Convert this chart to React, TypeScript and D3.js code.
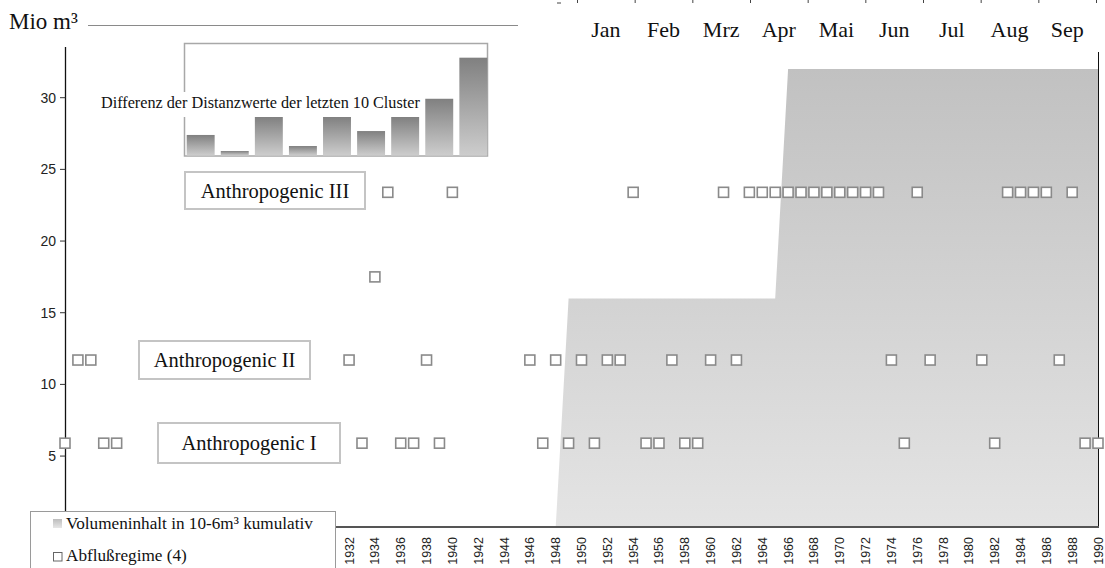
import React from 'react';
import * as d3 from 'd3';

// ---------- data ----------
const months = ['Jan', 'Feb', 'Mrz', 'Apr', 'Mai', 'Jun', 'Jul', 'Aug', 'Sep'];
const yTickValues = [5, 10, 15, 20, 25, 30];
const xTickYears = [1932, 1934, 1936, 1938, 1940, 1942, 1944, 1946, 1948, 1950, 1952, 1954, 1956, 1958, 1960,
  1962, 1964, 1966, 1968, 1970, 1972, 1974, 1976, 1978, 1980, 1982, 1984, 1986, 1988, 1990];

// cumulative volume (Mio m³)
const volumeYears = [1910, 1948, 1949, 1965, 1966, 1990];
const volumeValues = [0, 0, 16, 16, 32, 32];

// Abflußregime points (year, level)
const regimeYears = [
  1910, 1913, 1914, 1933, 1936, 1937, 1939, 1947, 1949, 1951, 1955, 1956, 1958, 1959, 1975, 1982, 1989, 1990,
  1911, 1912, 1932, 1938, 1946, 1948, 1950, 1952, 1953, 1957, 1960, 1962, 1974, 1977, 1981, 1987,
  1934,
  1935, 1940, 1954, 1961, 1963, 1964, 1965, 1966, 1967, 1968, 1969, 1970, 1971, 1972, 1973, 1976, 1983, 1984, 1985, 1986, 1988,
];
const regimeValues = [
  5.9, 5.9, 5.9, 5.9, 5.9, 5.9, 5.9, 5.9, 5.9, 5.9, 5.9, 5.9, 5.9, 5.9, 5.9, 5.9, 5.9, 5.9,
  11.7, 11.7, 11.7, 11.7, 11.7, 11.7, 11.7, 11.7, 11.7, 11.7, 11.7, 11.7, 11.7, 11.7, 11.7, 11.7,
  17.5,
  23.4, 23.4, 23.4, 23.4, 23.4, 23.4, 23.4, 23.4, 23.4, 23.4, 23.4, 23.4, 23.4, 23.4, 23.4, 23.4, 23.4, 23.4, 23.4, 23.4, 23.4,
];

// inset: differences of distance values of the last 10 clusters
const clusterSteps = ['1', '2', '3', '4', '5', '6', '7', '8', '9'];
const clusterDiffs = [0.21, 0.046, 0.395, 0.097, 0.395, 0.25, 0.395, 0.58, 1.0];

const clusterLabels = [
  { text: 'Anthropogenic III', x0: 185, y0: 172, x1: 365, y1: 209 },
  { text: 'Anthropogenic II', x0: 139, y0: 341, x1: 310, y1: 379 },
  { text: 'Anthropogenic I', x0: 158, y0: 423, x1: 340, y1: 463 },
];

const SERIF = '"Liberation Serif", "Times New Roman", serif';
const SANS = '"Liberation Sans", Arial, sans-serif';

export default function App() {
  const x = d3.scaleLinear().domain([1910, 1990]).range([65, 1098]);
  const y = d3.scaleLinear().domain([0, 30]).range([527.75, 97.7]);

  const area = d3
    .area<number>()
    .x((_, i) => x(volumeYears[i]))
    .y0(y(0))
    .y1((d) => y(d));
  const areaPath = area(volumeValues) || '';

  const mx = d3.scaleBand<string>().domain(months).range([577, 1096]);
  const monthEdges = months.map((m) => mx(m) as number).concat([1096]);

  const ix = d3.scaleBand<string>().domain(clusterSteps).range([185, 489]).paddingInner(0.18).paddingOuter(0.05);
  const iy = d3.scaleLinear().domain([0, 1.15]).range([155.5, 43]);

  const sq = 10;

  return (
    <div style={{ position: 'absolute', left: 0, top: 0 }}>
      <svg width={1105} height={568} style={{ display: 'block', background: '#fff' }}>
        <defs>
          <linearGradient id="areaGrad" x1="0" y1="0" x2="0" y2="1">
            <stop offset="0" stopColor="#c1c1c1" />
            <stop offset="1" stopColor="#e4e4e4" />
          </linearGradient>
          <linearGradient id="barGrad" x1="0" y1="0" x2="0" y2="1">
            <stop offset="0" stopColor="#808080" />
            <stop offset="1" stopColor="#cdcdcd" />
          </linearGradient>
          <linearGradient id="legGrad" x1="0" y1="0" x2="0" y2="1">
            <stop offset="0" stopColor="#bdbdbd" />
            <stop offset="1" stopColor="#e6e6e6" />
          </linearGradient>
        </defs>

        {/* title */}
        <text x={9} y={28.5} fontFamily={SERIF} fontSize={23} fill="#111">Mio m³</text>
        <line x1={88} x2={518} y1={25.5} y2={25.5} stroke="#8a8a8a" strokeWidth={1} />

        {/* top month axis */}
        <path d={monthEdges.map((e) => `M${e + 0.5},0V3`).join('') + 'M557,3H561'} stroke="#444" strokeWidth={1} fill="none" />
        {months.map((m) => (
          <text key={'ml' + m} x={(mx(m) as number) + mx.bandwidth() / 2} y={36.5} textAnchor="middle"
            fontFamily={SERIF} fontSize={22} fill="#111">{m}</text>
        ))}

        {/* volume area */}
        <path d={areaPath} fill="url(#areaGrad)" />

        {/* axes */}
        <line x1={65.5} x2={65.5} y1={47} y2={528} stroke="#111" strokeWidth={1.3} />
        {yTickValues.map((v) => (
          <g key={'yt' + v}>
            <line x1={60} x2={65.5} y1={y(v)} y2={y(v)} stroke="#333" />
            <text x={56} y={y(v)} dy="0.36em" textAnchor="end" fontFamily={SANS} fontSize={14} fill="#222">{v}</text>
          </g>
        ))}
        <line x1={1098.5} x2={1098.5} y1={52} y2={528} stroke="#111" strokeWidth={1} />
        <line x1={65} x2={1099} y1={527} y2={527} stroke="#555" strokeWidth={2} />
        {xTickYears.map((yr) => (
          <text key={'xl' + yr} transform={`translate(${x(yr)},537) rotate(-90)`} dy="0.36em" textAnchor="end"
            fontFamily={SANS} fontSize={12.5} fill="#222">{yr}</text>
        ))}

        {/* inset bar chart */}
        <rect x={184.5} y={43.5} width={303} height={112.5} fill="#fff" stroke="#a8a8a8" strokeWidth={1.5} />
        {clusterDiffs.map((v, i) => (
          <rect key={'b' + i} x={ix(clusterSteps[i])} y={iy(v)} width={ix.bandwidth()} height={iy(0) - iy(v)}
            fill="url(#barGrad)" />
        ))}
        <rect x={98} y={92} width={326} height={25} fill="#fff" />
        <text x={101} y={108} fontFamily={SERIF} fontSize={16.2} fill="#111">
          Differenz der Distanzwerte der letzten 10 Cluster
        </text>

        {/* cluster labels */}
        {clusterLabels.map((l) => (
          <g key={l.text}>
            <rect x={l.x0} y={l.y0} width={l.x1 - l.x0} height={l.y1 - l.y0} fill="#fff" stroke="#c4c4c4" strokeWidth={2} />
            <text x={(l.x0 + l.x1) / 2} y={(l.y0 + l.y1) / 2} dy="0.35em" textAnchor="middle"
              fontFamily={SERIF} fontSize={20.5} fill="#111">{l.text}</text>
          </g>
        ))}

        {/* regime points */}
        {regimeYears.map((yr, i) => (
          <rect key={'p' + i} x={x(yr) - sq / 2} y={y(regimeValues[i]) - sq / 2} width={sq} height={sq}
            fill="#fff" stroke="#8a8a8a" strokeWidth={1.6} />
        ))}

        {/* legend */}
        <rect x={30.5} y={511.5} width={305} height={70} fill="#fff" stroke="#9a9a9a" strokeWidth={1} />
        <rect x={53} y={519} width={9} height={9} fill="url(#legGrad)" />
        <text x={66} y={528.5} fontFamily={SERIF} fontSize={17.2} fill="#111">Volumeninhalt in 10-6m³ kumulativ</text>
        <rect x={53.5} y={552.5} width={8.5} height={8.5} fill="#fff" stroke="#666" strokeWidth={1} />
        <text x={66} y={561} fontFamily={SERIF} fontSize={17.2} fill="#111">Abflußregime (4)</text>
      </svg>
    </div>
  );
}
